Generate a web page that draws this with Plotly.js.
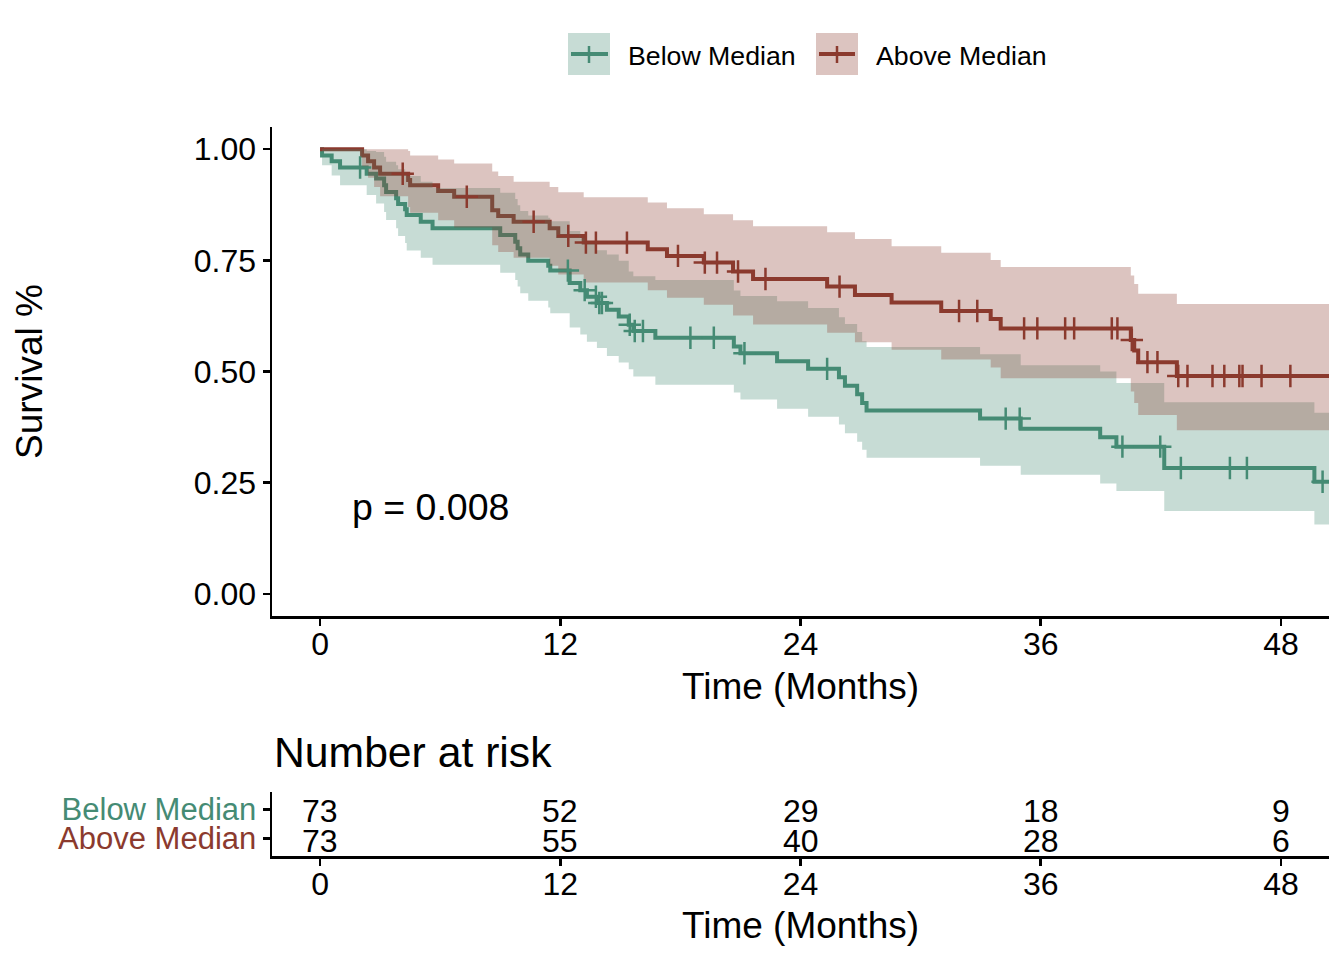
<!DOCTYPE html>
<html><head><meta charset="utf-8">
<script src="https://cdn.plot.ly/plotly-3.0.1.min.js"></script>
<style>body{margin:0;background:#fff}#chart{width:1344px;height:960px}</style>
</head><body><div id="chart"></div>
<script>
// ---------- DATA ----------
const groupNames = ['Below Median', 'Above Median'];

// Below Median: event times (months), survival, CI upper, CI lower
const belowTime  = [0, 0.1, 0.58, 1.0, 2.33, 2.8, 3.2, 3.3, 3.8, 3.9, 4.25, 4.33, 5.03, 5.62, 9.0, 9.75, 9.87, 10.0, 10.4, 11.4, 11.5, 12.47, 13.0, 13.33, 13.83, 14.33, 14.92, 15.42, 15.65, 16.75, 20.67, 21.0, 22.83, 24.38, 25.92, 26.22, 26.83, 27.08, 27.3, 32.97, 35.0, 38.97, 39.78, 42.17, 49.67];
const belowSurv  = [1, 0.986, 0.973, 0.959, 0.945, 0.934, 0.919, 0.904, 0.890, 0.877, 0.865, 0.852, 0.837, 0.822, 0.807, 0.792, 0.777, 0.763, 0.749, 0.738, 0.727, 0.699, 0.683, 0.668, 0.654, 0.639, 0.624, 0.605, 0.591, 0.576, 0.556, 0.541, 0.523, 0.506, 0.487, 0.468, 0.449, 0.429, 0.412, 0.394, 0.371, 0.352, 0.331, 0.283, 0.252];
const belowUpper = [1, 1, 1, 1, 0.996, 0.994, 0.983, 0.972, 0.964, 0.955, 0.948, 0.940, 0.927, 0.913, 0.902, 0.888, 0.874, 0.861, 0.851, 0.846, 0.838, 0.816, 0.800, 0.787, 0.773, 0.763, 0.749, 0.725, 0.714, 0.706, 0.682, 0.670, 0.658, 0.643, 0.622, 0.607, 0.589, 0.568, 0.555, 0.539, 0.514, 0.500, 0.474, 0.431, 0.407];
const belowLower = [1, 0.964, 0.941, 0.919, 0.897, 0.878, 0.859, 0.841, 0.822, 0.805, 0.789, 0.772, 0.756, 0.740, 0.722, 0.706, 0.691, 0.676, 0.659, 0.644, 0.631, 0.599, 0.583, 0.567, 0.553, 0.535, 0.520, 0.505, 0.489, 0.470, 0.453, 0.437, 0.416, 0.398, 0.381, 0.361, 0.342, 0.324, 0.306, 0.288, 0.268, 0.248, 0.231, 0.186, 0.156];
const belowCensor = [2.0, 12.38, 13.22, 13.78, 13.95, 14.08, 15.47, 15.72, 16.13, 18.5, 19.67, 21.2, 25.33, 34.25, 34.95, 40.08, 41.97, 43.0, 45.45, 46.3, 50.08];
const belowLastFollowUp = 52;

// Above Median
const aboveTime  = [0, 2.1, 2.4, 2.7, 3.0, 4.4, 4.5, 5.9, 6.7, 8.6, 8.9, 9.67, 11.47, 11.9, 13.17, 16.37, 17.33, 19.17, 20.63, 21.63, 25.33, 26.72, 28.55, 31.03, 33.5, 34.0, 40.5, 40.67, 40.87, 42.8];
const aboveSurv  = [1, 0.986, 0.973, 0.959, 0.945, 0.931, 0.919, 0.906, 0.893, 0.863, 0.850, 0.837, 0.822, 0.805, 0.790, 0.775, 0.760, 0.745, 0.725, 0.708, 0.691, 0.672, 0.655, 0.636, 0.618, 0.597, 0.571, 0.547, 0.521, 0.490];
const aboveUpper = [1, 1, 1, 1, 1, 0.996, 0.986, 0.977, 0.968, 0.950, 0.940, 0.927, 0.915, 0.903, 0.892, 0.880, 0.867, 0.854, 0.840, 0.827, 0.813, 0.798, 0.782, 0.767, 0.751, 0.735, 0.716, 0.697, 0.675, 0.652];
const aboveLower = [1, 0.959, 0.936, 0.915, 0.894, 0.870, 0.857, 0.840, 0.824, 0.784, 0.769, 0.756, 0.738, 0.718, 0.700, 0.683, 0.666, 0.650, 0.626, 0.606, 0.587, 0.566, 0.549, 0.527, 0.509, 0.485, 0.455, 0.429, 0.402, 0.368];
const aboveCensor = [4.13, 7.33, 10.67, 12.4, 13.28, 13.78, 15.33, 17.88, 19.22, 19.83, 20.88, 22.25, 25.95, 31.92, 32.83, 35.17, 35.83, 37.22, 37.67, 39.55, 39.83, 40.55, 41.33, 41.83, 42.87, 43.33, 44.58, 45.17, 45.92, 46.08, 47.03, 48.47];
const aboveLastFollowUp = 52;

// Number at risk table
const riskTimes = [0, 12, 24, 36, 48];
const riskBelow = [73, 52, 29, 18, 9];
const riskAbove = [73, 55, 40, 28, 6];

const xTicks = [0, 12, 24, 36, 48];
const yTicks = [0, 0.25, 0.5, 0.75, 1];
const pValueText = 'p = 0.008';

// ---------- STYLE ----------
const GREEN = '#458B74';
const RED = '#8B3A2E';
const GREEN_FILL = 'rgba(69,139,116,0.3)';
const RED_FILL = 'rgba(139,58,46,0.3)';
const FONT = 'Liberation Sans, Arial, sans-serif';

function stepAt(times, vals, t) {
  let v = vals[0];
  for (let i = 0; i < times.length; i++) if (times[i] <= t) v = vals[i];
  return v;
}
function extend(times, vals, end) {
  return { x: times.concat([end]), y: vals.concat([vals[vals.length - 1]]) };
}
function lineTrace(times, vals, end, color) {
  const e = extend(times, vals, end);
  return { x: e.x, y: e.y, mode: 'lines', line: { shape: 'hv', color: color, width: 4 },
           xaxis: 'x', yaxis: 'y', showlegend: false, hoverinfo: 'skip' };
}
function bandTraces(times, up, lo, end, fill) {
  const u = extend(times, up, end), l = extend(times, lo, end);
  return [
    { x: u.x, y: u.y, mode: 'lines', line: { shape: 'hv', width: 0 }, xaxis: 'x', yaxis: 'y', showlegend: false, hoverinfo: 'skip' },
    { x: l.x, y: l.y, mode: 'lines', line: { shape: 'hv', width: 0 }, fill: 'tonexty', fillcolor: fill,
      xaxis: 'x', yaxis: 'y', showlegend: false, hoverinfo: 'skip' }
  ];
}
function censorTrace(cens, times, vals, color) {
  return { x: cens, y: cens.map(t => stepAt(times, vals, t)), mode: 'markers',
           marker: { symbol: 'cross-thin', size: 16, color: color, line: { color: color, width: 2.5 } },
           xaxis: 'x', yaxis: 'y', showlegend: false, hoverinfo: 'skip' };
}

const traces = [
  lineTrace(belowTime, belowSurv, belowLastFollowUp, GREEN),
  lineTrace(aboveTime, aboveSurv, aboveLastFollowUp, RED),
  ...bandTraces(belowTime, belowUpper, belowLower, belowLastFollowUp, GREEN_FILL),
  ...bandTraces(aboveTime, aboveUpper, aboveLower, aboveLastFollowUp, RED_FILL),
  censorTrace(belowCensor, belowTime, belowSurv, GREEN),
  censorTrace(aboveCensor, aboveTime, aboveSurv, RED),
  // invisible anchor so the risk-table axes are drawn
  { x: riskTimes, y: riskTimes.map(() => 1), mode: 'markers', marker: { opacity: 0 },
    xaxis: 'x2', yaxis: 'y2', showlegend: false, hoverinfo: 'skip' }
];

const W = 1344, H = 960, L = 272, R = 15;
const px = v => (v - L) / (W - L - R);
const py = v => 1 - v / H;

const axisCommon = {
  showline: true, linecolor: '#000', linewidth: 2.5, mirror: false,
  ticks: 'outside', ticklen: 7, tickwidth: 2.5, tickcolor: '#000',
  showgrid: false, zeroline: false, fixedrange: true,
  tickfont: { family: FONT, size: 32, color: '#000' }
};

const riskAnnotations = [];
riskTimes.forEach((t, i) => {
  riskAnnotations.push({ text: String(riskBelow[i]), xref: 'x2', yref: 'y2', x: t, y: 1, yshift: -2,
    xanchor: 'center', yanchor: 'middle', showarrow: false, font: { family: FONT, size: 32, color: '#000' } });
  riskAnnotations.push({ text: String(riskAbove[i]), xref: 'x2', yref: 'y2', x: t, y: 0, yshift: -2,
    xanchor: 'center', yanchor: 'middle', showarrow: false, font: { family: FONT, size: 32, color: '#000' } });
});

const layout = {
  width: W, height: H,
  margin: { l: L, r: R, t: 0, b: 0 },
  paper_bgcolor: '#fff', plot_bgcolor: '#fff',
  font: { family: FONT, color: '#000' },
  hovermode: false, showlegend: false,
  xaxis: Object.assign({}, axisCommon, { domain: [0, 1], anchor: 'y', range: [-2.4, 50.4], tickvals: xTicks,
    ticklabelstandoff: -9,
    title: { text: 'Time (Months)', font: { family: FONT, size: 37, color: '#000' }, standoff: 12 } }),
  yaxis: Object.assign({}, axisCommon, { domain: [py(616), py(127)], anchor: 'x', range: [-0.05, 1.05],
    tickvals: yTicks, tickformat: '.2f',
    title: { text: 'Survival %', font: { family: FONT, size: 37, color: '#000' }, standoff: 140 } }),
  xaxis2: Object.assign({}, axisCommon, { domain: [0, 1], anchor: 'y2', range: [-2.4, 50.4], tickvals: xTicks,
    ticklabelstandoff: -9,
    title: { text: 'Time (Months)', font: { family: FONT, size: 37, color: '#000' }, standoff: 11 } }),
  yaxis2: Object.assign({}, axisCommon, { domain: [py(856), py(792)], anchor: 'x2', range: [-0.6, 1.6],
    tickvals: [0, 1],
    ticktext: ['<span style="color:' + RED + '">' + groupNames[1] + '</span>',
               '<span style="color:' + GREEN + '">' + groupNames[0] + '</span>'],
    tickfont: { family: FONT, size: 31, color: '#000' } }),
  annotations: [
    { text: pValueText, xref: 'x', yref: 'y', x: 1.5, y: 0.195, xanchor: 'left', yanchor: 'middle',
      showarrow: false, font: { family: FONT, size: 37.5, color: '#000' } },
    { text: 'Number at risk', xref: 'paper', yref: 'paper', x: px(272), y: py(752), xanchor: 'left', yanchor: 'middle',
      showarrow: false, font: { family: FONT, size: 42.7, color: '#000' } },
    { text: groupNames[0], xref: 'paper', yref: 'paper', x: px(626), y: py(56), xanchor: 'left', yanchor: 'middle',
      showarrow: false, font: { family: FONT, size: 26.7, color: '#000' } },
    { text: groupNames[1], xref: 'paper', yref: 'paper', x: px(874), y: py(56), xanchor: 'left', yanchor: 'middle',
      showarrow: false, font: { family: FONT, size: 26.7, color: '#000' } }
  ].concat(riskAnnotations),
  shapes: [
    { type: 'rect', xref: 'paper', yref: 'paper', x0: px(568), x1: px(610), y0: py(75), y1: py(33), fillcolor: GREEN_FILL, line: { width: 0 } },
    { type: 'line', xref: 'paper', yref: 'paper', x0: px(571), x1: px(608), y0: py(54), y1: py(54), line: { color: GREEN, width: 4 } },
    { type: 'line', xref: 'paper', yref: 'paper', x0: px(589), x1: px(589), y0: py(46), y1: py(63), line: { color: GREEN, width: 2.5 } },
    { type: 'rect', xref: 'paper', yref: 'paper', x0: px(816), x1: px(858), y0: py(75), y1: py(33), fillcolor: RED_FILL, line: { width: 0 } },
    { type: 'line', xref: 'paper', yref: 'paper', x0: px(819), x1: px(855), y0: py(54), y1: py(54), line: { color: RED, width: 4 } },
    { type: 'line', xref: 'paper', yref: 'paper', x0: px(837), x1: px(837), y0: py(46), y1: py(63), line: { color: RED, width: 2.5 } }
  ]
};

Plotly.newPlot('chart', traces, layout, { staticPlot: true, displayModeBar: false });
</script>
</body></html>
